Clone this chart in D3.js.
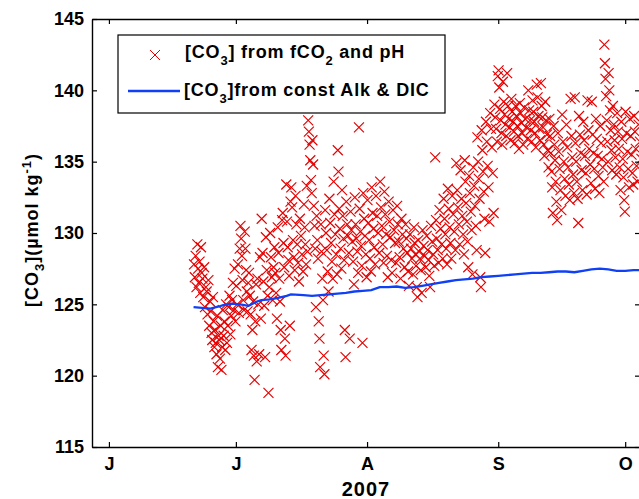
<!DOCTYPE html>
<html>
<head>
<meta charset="utf-8">
<script src="https://cdn.jsdelivr.net/npm/d3@7"></script>
<style>
  html, body { margin: 0; padding: 0; background: #fff; }
  svg { display: block; }
</style>
</head>
<body>
<svg id="chart" width="639" height="499"></svg>
<script>
// days are counted from 1 June 2007
var obsStartDay = 20;
var co3Obs = [
    [127.8, 126.9, 128.4, 126.2, 129.2],
    [127.5, 126.5, 128.0, 125.8, 129.0, 127.2],
    [126.8, 125.5, 127.6, 124.8, 126.2],
    [125.9, 124.3, 126.7, 123.5, 125.2],
    [124.5, 123.0, 122.5, 125.5, 123.8, 122.0],
    [123.2, 122.3, 121.5, 124.2, 120.6, 122.8],
    [122.5, 121.2, 123.5, 120.4, 122.0, 124.6],
    [122.8, 123.8, 121.8, 125.0, 122.3],
    [123.5, 124.8, 125.6, 122.9, 124.2],
    [125.3, 126.5, 124.6, 127.5, 123.8],
    [126.3, 125.0, 127.8, 124.4, 128.9],
    [130.5, 129.6, 128.4, 126.7, 125.3, 124.6],
    [130.1, 128.9, 127.4, 125.9, 124.5, 126.5],
    [127.2, 125.6, 124.3, 121.8, 123.2],
    [125.2, 121.4, 119.7, 123.8, 126.4, 121.0],
    [126.8, 125.0, 121.5, 128.3, 124.0],
    [131.0, 128.6, 126.6, 124.9, 121.3],
    [129.7, 127.4, 125.6, 118.8, 126.2],
    [130.0, 128.3, 126.9, 125.3, 127.6],
    [129.0, 127.2, 125.8, 124.0, 130.4],
    [128.6, 126.8, 125.2, 123.2, 121.8, 130.9],
    [131.4, 129.3, 127.6, 122.6, 121.4, 133.4],
    [130.8, 129.0, 128.1, 127.0, 123.5, 132.2],
    [133.2, 131.8, 129.5, 128.3, 127.4],
    [132.6, 130.6, 129.2, 127.9, 126.6],
    [131.0, 129.8, 128.5, 127.3],
    [132.0, 130.4, 129.2, 127.8, 133.3, 128.7],
    [137.9, 137.1, 136.2, 135.1, 133.7, 132.8],
    [136.5, 134.8, 131.9, 130.5, 128.9, 124.8],
    [131.2, 129.5, 128.2, 123.8, 122.6, 120.6],
    [130.6, 128.7, 126.8, 125.3, 121.4, 120.1],
    [131.6, 130.0, 128.8, 127.3, 125.9],
    [132.4, 130.7, 129.3, 128.0, 126.8],
    [133.6, 131.3, 129.9, 128.5, 127.1],
    [135.8, 134.3, 131.7, 130.3, 128.9, 127.5],
    [133.0, 131.2, 129.6, 128.1, 123.2, 121.3],
    [132.2, 130.6, 129.8, 128.6, 122.6],
    [131.5, 130.2, 129.4, 128.0, 126.4],
    [132.5, 130.6, 129.6, 128.7, 127.2],
    [137.4, 131.7, 130.1, 129.1, 127.7, 122.3],
    [132.8, 131.0, 129.8, 128.5, 126.9],
    [132.3, 130.7, 129.5, 128.2, 127.3],
    [133.2, 131.4, 130.3, 129.0, 127.8],
    [132.6, 131.2, 130.0, 128.6],
    [133.6, 131.8, 130.5, 129.2, 127.9],
    [132.9, 131.3, 129.9, 128.4, 126.9],
    [132.2, 130.8, 129.7, 128.1, 127.2],
    [131.6, 130.2, 129.3, 127.9],
    [131.9, 130.6, 129.4, 128.3, 126.8],
    [131.0, 129.9, 128.9, 127.6],
    [130.6, 129.6, 128.6, 127.3, 126.3],
    [129.9, 128.9, 128.2, 127.1],
    [130.4, 129.3, 128.5, 127.7, 126.2, 125.5],
    [129.5, 128.7, 128.2, 127.4, 125.8],
    [130.2, 129.1, 128.4, 127.6],
    [129.8, 128.8, 128.1, 127.0, 126.2],
    [130.5, 129.4, 128.5, 127.7],
    [135.3, 130.9, 129.6, 128.8, 127.9],
    [131.6, 130.3, 129.2, 128.2],
    [132.4, 131.0, 129.9, 128.9, 127.8],
    [133.1, 131.7, 130.4, 129.3, 128.2],
    [132.6, 131.3, 130.1, 128.8],
    [134.9, 133.0, 131.8, 130.6, 129.2],
    [134.4, 132.4, 131.2, 129.9, 128.5],
    [135.1, 133.6, 132.1, 130.8, 129.4, 127.6],
    [134.0, 132.8, 131.5, 130.2, 127.1],
    [134.6, 133.3, 131.9, 130.5, 128.8],
    [136.7, 135.0, 133.8, 132.4, 126.9, 126.2],
    [137.2, 135.8, 134.3, 132.9, 131.0, 128.6],
    [137.8, 136.4, 134.7, 133.2, 130.8],
    [138.4, 137.3, 136.0, 134.2, 131.4],
    [139.0, 138.1, 137.3, 136.4, 141.0],
    [141.4, 140.2, 138.7, 137.9, 137.0, 136.2],
    [140.6, 139.2, 138.3, 137.6, 136.8],
    [141.2, 138.9, 138.0, 137.4, 136.5],
    [139.4, 138.5, 137.8, 137.1, 136.3],
    [138.9, 138.2, 137.5, 136.8, 135.9],
    [139.1, 138.4, 137.7, 137.0, 136.2],
    [138.8, 138.0, 137.4, 136.6],
    [140.0, 138.6, 137.9, 137.2, 136.4],
    [139.3, 138.5, 137.8, 137.0, 136.0],
    [140.4, 139.5, 138.2, 137.3, 136.5],
    [140.5, 138.9, 138.1, 137.4, 136.2, 135.4],
    [139.2, 137.9, 136.9, 135.8, 134.6],
    [138.0, 136.8, 135.6, 134.3, 133.2, 131.4],
    [137.5, 136.2, 135.1, 133.6, 132.2, 130.9],
    [137.0, 135.7, 134.5, 133.0, 131.6],
    [138.3, 136.4, 135.0, 133.8, 132.6],
    [137.6, 136.0, 134.6, 133.4, 132.3],
    [139.4, 136.8, 135.3, 134.1, 132.8],
    [139.5, 136.3, 135.0, 133.6, 132.4, 130.7],
    [138.2, 136.9, 135.6, 134.4, 133.0],
    [137.8, 136.5, 135.4, 134.2, 132.7],
    [139.3, 137.2, 135.9, 134.8, 133.5],
    [139.2, 136.9, 135.6, 134.5, 133.1],
    [138.0, 136.6, 135.4, 134.0, 132.8],
    [137.5, 136.3, 135.2, 134.6, 133.6],
    [143.2, 141.9, 140.8, 139.6, 137.9, 136.4, 135.0],
    [141.2, 140.0, 138.6, 137.2, 135.8, 134.4],
    [138.9, 137.6, 136.5, 135.3, 134.1],
    [138.4, 137.1, 135.9, 134.6, 133.0],
    [137.8, 136.6, 135.2, 133.9, 132.3, 131.5],
    [138.5, 137.0, 135.7, 134.5, 133.2],
    [138.0, 136.8, 135.5, 134.2, 133.4],
    [138.2, 137.1, 135.9, 134.7, 133.6],
    [137.6, 136.4, 135.2]
];

var calcDays = [20, 22, 24, 26, 27, 29, 31, 33, 35, 36, 38, 40, 42, 43, 46, 48, 50, 52, 54, 56, 58, 60,
    62, 64, 66, 68, 70, 72, 74, 76, 78, 80, 82, 84, 86, 88, 90, 92, 94, 96, 98, 100, 102, 104, 106,
    108, 110, 112, 114, 116, 118, 120, 122, 124, 125.5];
var calcCO3 = [124.8, 124.75, 124.7, 124.85, 124.95, 125.05, 125.0, 124.9, 125.2, 125.3, 125.35, 125.45,
    125.6, 125.7, 125.65, 125.6, 125.65, 125.7, 125.75, 125.8, 125.9, 125.95, 126.0, 126.2, 126.2, 126.25,
    126.15, 126.2, 126.3, 126.4, 126.5, 126.6, 126.7, 126.75, 126.8, 126.9, 126.95, 127.0, 127.05, 127.1,
    127.15, 127.2, 127.2, 127.25, 127.3, 127.3, 127.25, 127.35, 127.45, 127.5, 127.45, 127.35, 127.35,
    127.4, 127.4];

var monthTicks = ["2007-06-01", "2007-07-01", "2007-08-01", "2007-09-01", "2007-10-01"];
var monthLabels = ["J", "J", "A", "S", "O"];
var yTicks = [115, 120, 125, 130, 135, 140, 145];

var FONT = "'Liberation Sans', Arial, Helvetica, sans-serif";
var day0 = Date.UTC(2007, 5, 1);
var toDate = function (d) { return new Date(day0 + d * 864e5); };

var svg = d3.select("#chart");
var x = d3.scaleUtc()
    .domain([new Date(Date.UTC(2007, 4, 28)), new Date(Date.UTC(2007, 9, 4, 12))])
    .range([92, 640]);
var y = d3.scaleLinear().domain([115, 145]).range([447, 19]);

// flatten the daily lists into points spread across each day
var obs = [];
co3Obs.forEach(function (vals, i) {
    vals.forEach(function (v, j) {
        obs.push({ t: toDate(obsStartDay + i + (j + 0.5) / vals.length), v: v });
    });
});

var plot = svg.append("g");
plot.selectAll("path.obs").data(obs).enter().append("path")
    .attr("class", "obs")
    .attr("transform", function (d) { return "translate(" + x(d.t) + "," + y(d.v) + ")"; })
    .attr("d", "M-5,-5L5,5M-5,5L5,-5")
    .attr("stroke", "#e60000")
    .attr("stroke-width", 1.15)
    .attr("fill", "none");

var line = d3.line()
    .x(function (d, i) { return x(toDate(calcDays[i])); })
    .y(function (d) { return y(d); });
plot.append("path")
    .datum(calcCO3)
    .attr("d", line)
    .attr("fill", "none")
    .attr("stroke", "#1040f5")
    .attr("stroke-width", 2.3);

var tickDates = monthTicks.map(function (s) { return new Date(s + "T00:00:00Z"); });

function styleAxis(g) {
    g.attr("font-family", FONT).attr("font-size", 18).attr("font-weight", "bold");
    g.select(".domain").attr("stroke", "#000").attr("stroke-width", 1.4);
    g.selectAll(".tick line").attr("stroke", "#000").attr("stroke-width", 1.2);
    g.selectAll(".tick text").attr("fill", "#000");
}

svg.append("g").attr("transform", "translate(0,447)")
    .call(d3.axisBottom(x).tickValues(tickDates)
        .tickFormat(function (d, i) { return monthLabels[i]; })
        .tickSizeInner(-5).tickSizeOuter(0).tickPadding(10))
    .call(styleAxis);
svg.append("g").attr("transform", "translate(0,19)")
    .call(d3.axisTop(x).tickValues(tickDates).tickFormat("")
        .tickSizeInner(-5).tickSizeOuter(0))
    .call(styleAxis);
svg.append("g").attr("transform", "translate(92,0)")
    .call(d3.axisLeft(y).tickValues(yTicks)
        .tickSizeInner(-5).tickSizeOuter(0).tickPadding(8))
    .call(styleAxis);
svg.append("g").attr("transform", "translate(640,0)")
    .call(d3.axisRight(y).tickValues(yTicks).tickFormat("")
        .tickSizeInner(-5).tickSizeOuter(0))
    .call(styleAxis);

svg.append("text")
    .attr("x", 366).attr("y", 496)
    .attr("text-anchor", "middle")
    .attr("font-family", FONT).attr("font-size", 20).attr("font-weight", "bold")
    .attr("letter-spacing", 1)
    .text("2007");

var ylab = svg.append("text")
    .attr("transform", "translate(38,230) rotate(-90)")
    .attr("text-anchor", "middle")
    .attr("font-family", FONT).attr("font-size", 18).attr("font-weight", "bold")
    .attr("letter-spacing", 1);
ylab.append("tspan").text("[CO");
ylab.append("tspan").attr("font-size", 13).attr("dy", 6).text("3");
ylab.append("tspan").attr("dy", -6).text("](\u00b5mol kg");
ylab.append("tspan").attr("font-size", 13).attr("dy", -7).text("-1");
ylab.append("tspan").attr("dy", 7).text(")");

// legend
var leg = svg.append("g").attr("font-family", FONT).attr("font-size", 18).attr("font-weight", "bold");
leg.append("rect")
    .attr("x", 118).attr("y", 35).attr("width", 327).attr("height", 78)
    .attr("fill", "#fff").attr("stroke", "#000").attr("stroke-width", 1.2);
leg.append("path")
    .attr("transform", "translate(155,55)")
    .attr("d", "M-5,-5L5,5M-5,5L5,-5")
    .attr("stroke", "#e60000").attr("fill", "none");
leg.append("line")
    .attr("x1", 128).attr("x2", 180).attr("y1", 91).attr("y2", 91)
    .attr("stroke", "#1040f5").attr("stroke-width", 2.3);

var t1 = leg.append("text").attr("x", 185).attr("y", 58).attr("letter-spacing", 0.8);
t1.append("tspan").text("[CO");
t1.append("tspan").attr("font-size", 13).attr("dy", 7).text("3");
t1.append("tspan").attr("dy", -7).text("] from fCO");
t1.append("tspan").attr("font-size", 13).attr("dy", 7).text("2");
t1.append("tspan").attr("dy", -7).text(" and pH");

var t2 = leg.append("text").attr("x", 184).attr("y", 96).attr("letter-spacing", 0.8);
t2.append("tspan").text("[CO");
t2.append("tspan").attr("font-size", 13).attr("dy", 7).text("3");
t2.append("tspan").attr("dy", -7).text("]from const Alk & DIC");
</script>
</body>
</html>
